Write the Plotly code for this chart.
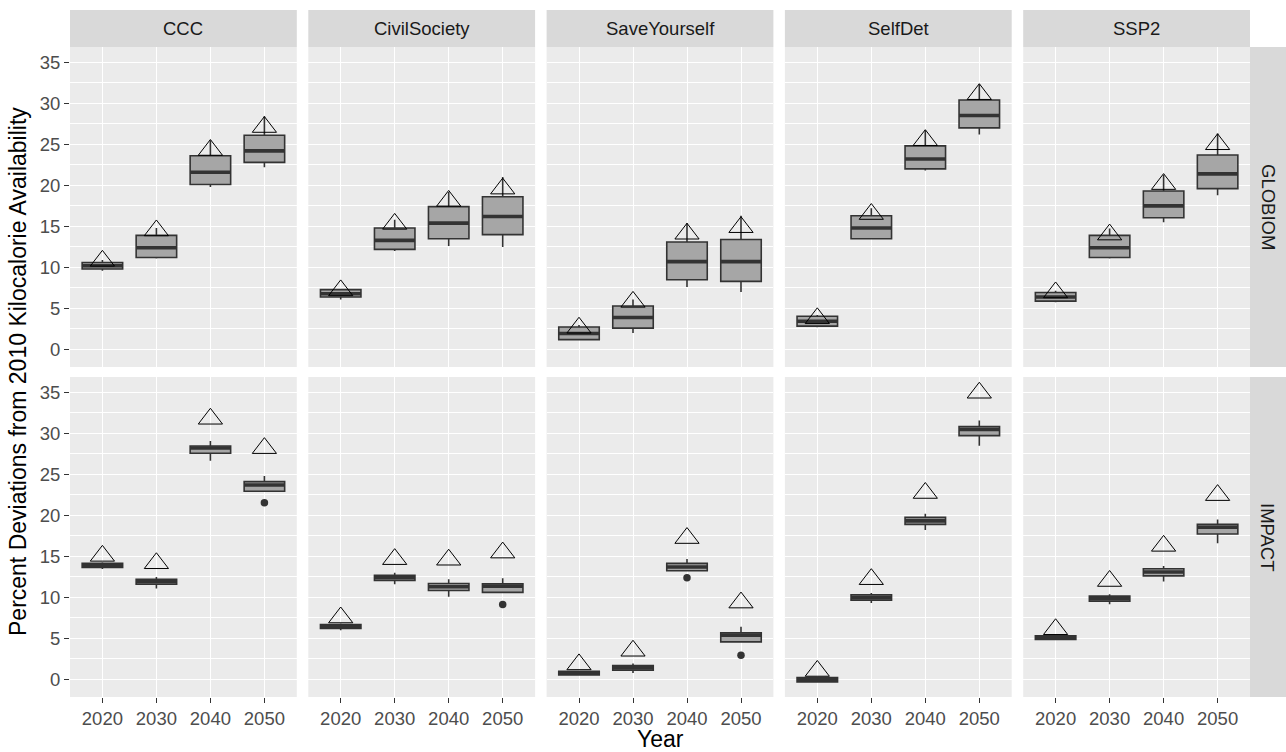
import plotly.graph_objects as go

# ---------------- data ----------------
years = ["2020", "2030", "2040", "2050"]
scenarios = ["CCC", "CivilSociety", "SaveYourself", "SelfDet", "SSP2"]
models = ["GLOBIOM", "IMPACT"]

# GLOBIOM (rows = scenarios, cols = years)
globiom_q1 = [[9.8, 11.2, 20.1, 22.8], [6.4, 12.2, 13.5, 14.0], [1.2, 2.6, 8.5, 8.3],
              [2.85, 13.5, 22.0, 27.0], [5.9, 11.2, 16.05, 19.6]]
globiom_median = [[10.2, 12.4, 21.6, 24.2], [6.8, 13.3, 15.4, 16.2], [1.95, 3.9, 10.7, 10.7],
                  [3.45, 14.8, 23.2, 28.5], [6.4, 12.4, 17.5, 21.4]]
globiom_q3 = [[10.6, 13.9, 23.6, 26.1], [7.3, 14.8, 17.4, 18.6], [2.75, 5.3, 13.1, 13.4],
              [4.05, 16.3, 24.8, 30.4], [6.95, 13.9, 19.3, 23.7]]
globiom_low = [[9.6, 11.1, 19.8, 22.2], [6.1, 12.0, 12.6, 12.5], [1.1, 2.0, 7.6, 7.0],
               [2.7, 13.4, 21.8, 26.2], [5.75, 11.1, 15.5, 18.8]]
globiom_high = [[10.9, 14.8, 25.5, 28.4], [7.4, 15.8, 19.2, 21.0], [3.0, 6.1, 15.4, 16.3],
                [4.2, 17.2, 26.7, 32.3], [7.15, 14.75, 21.3, 26.3]]
globiom_reference = [[10.8, 14.5, 24.3, 27.1], [7.2, 15.3, 18.1, 19.6], [2.65, 5.8, 14.1, 14.9],
                     [3.8, 16.5, 25.5, 31.1], [6.95, 14.0, 20.15, 25.0]]

# IMPACT
impact_q1 = [[13.66, 11.6, 27.56, 22.93], [6.22, 12.07, 10.85, 10.61], [0.56, 1.13, 13.24, 4.59],
             [-0.29, 9.67, 18.9, 29.71], [4.88, 9.55, 12.63, 17.72]]
impact_median = [[13.9, 11.9, 28.2, 23.7], [6.46, 12.4, 11.3, 11.38], [0.78, 1.42, 13.7, 5.4],
                 [0.0, 10.0, 19.33, 30.45], [5.1, 9.87, 13.1, 18.54]]
impact_q3 = [[14.15, 12.2, 28.45, 24.1], [6.7, 12.68, 11.7, 11.66], [1.01, 1.7, 14.15, 5.68],
             [0.24, 10.32, 19.75, 30.8], [5.32, 10.16, 13.49, 18.9]]
impact_low = [[13.45, 11.1, 26.66, 22.93], [6.0, 11.6, 10.07, 10.61], [0.5, 0.78, 13.24, 4.59],
              [-0.35, 9.33, 18.21, 28.49], [4.8, 9.17, 11.93, 16.59]]
impact_high = [[14.27, 12.5, 29.06, 24.79], [6.82, 13.0, 12.2, 12.34], [1.1, 1.95, 14.67, 6.42],
               [0.3, 10.55, 20.2, 31.54], [5.4, 10.4, 13.83, 19.5]]
impact_reference = [[15.06, 14.16, 31.76, 28.18], [7.55, 14.66, 14.59, 15.46], [1.84, 3.5, 17.23, 9.37],
                    [1.04, 12.22, 22.72, 34.93], [6.12, 12.0, 16.28, 22.46]]

# outliers: (model, scenario, year, value)
outlier_model = ["IMPACT", "IMPACT", "IMPACT", "IMPACT"]
outlier_scenario = ["CCC", "CivilSociety", "SaveYourself", "SaveYourself"]
outlier_year = ["2050", "2050", "2040", "2050"]
outlier_value = [21.54, 9.15, 12.39, 2.96]

y_ticks = [0, 5, 10, 15, 20, 25, 30, 35]
y_minor = [2.5, 7.5, 12.5, 17.5, 22.5, 27.5, 32.5]

stats = {
    "GLOBIOM": (globiom_q1, globiom_median, globiom_q3, globiom_low, globiom_high, globiom_reference),
    "IMPACT": (impact_q1, impact_median, impact_q3, impact_low, impact_high, impact_reference),
}

# ---------------- layout geometry (pixels) ----------------
W, H = 1286, 752
FONT = "Liberation Sans, Arial, sans-serif"
TICK_SIZE = 18.5
TITLE_SIZE = 23
col_left = [70, 308.3, 546.6, 784.9, 1023.2]
panel_w = 226.8
row_top = [47, 377]
panel_h = 320
strip_top = 10
strip_right = (1250, 1286)

def px(x):
    return x / W

def py(y):
    return 1 - y / H

fig = go.Figure()
layout = {}
shapes = []
annotations = []

for r, model in enumerate(models):
    q1s, meds, q3s, lows, highs, refs = stats[model]
    for c, sc in enumerate(scenarios):
        idx = r * 5 + c + 1
        xa = "x" if idx == 1 else f"x{idx}"
        ya = "y" if idx == 1 else f"y{idx}"
        xkey = "xaxis" if idx == 1 else f"xaxis{idx}"
        ykey = "yaxis" if idx == 1 else f"yaxis{idx}"

        fig.add_trace(go.Box(
            x=years, q1=q1s[c], median=meds[c], q3=q3s[c],
            lowerfence=lows[c], upperfence=highs[c],
            width=0.75, whiskerwidth=0, fillcolor="#A6A6A6",
            line=dict(color="#333333", width=1.6),
            xaxis=xa, yaxis=ya, hoverinfo="skip", showlegend=False,
        ))
        # thick median bar (ggplot fatten)
        fig.add_trace(go.Scatter(
            x=years, y=meds[c], mode="markers",
            marker=dict(symbol="line-ew", size=29, line=dict(width=3.6, color="#333333")),
            xaxis=xa, yaxis=ya, hoverinfo="skip", showlegend=False,
        ))
        # outliers
        ox = [outlier_year[i] for i in range(len(outlier_value))
              if outlier_model[i] == model and outlier_scenario[i] == sc]
        oy = [outlier_value[i] for i in range(len(outlier_value))
              if outlier_model[i] == model and outlier_scenario[i] == sc]
        if ox:
            fig.add_trace(go.Scatter(
                x=ox, y=oy, mode="markers",
                marker=dict(symbol="circle", size=7.5, color="#333333"),
                xaxis=xa, yaxis=ya, hoverinfo="skip", showlegend=False,
            ))
        # reference triangles
        fig.add_trace(go.Scatter(
            x=years, y=refs[c], mode="markers",
            marker=dict(symbol="triangle-up-open", size=21, color="black",
                        line=dict(width=1, color="black")),
            xaxis=xa, yaxis=ya, hoverinfo="skip", showlegend=False,
        ))

        x0 = col_left[c]
        y0 = row_top[r]
        layout[xkey] = dict(
            domain=[px(x0), px(x0 + panel_w)], anchor=ya,
            type="category", categoryorder="array", categoryarray=years,
            range=[-0.6, 3.6], showgrid=True, gridcolor="white", gridwidth=1.1,
            zeroline=False, showline=False,
            ticks="outside" if r == 1 else "", ticklen=5, tickcolor="#333333", tickwidth=1,
            showticklabels=(r == 1),
            tickfont=dict(family=FONT, size=TICK_SIZE, color="#4D4D4D"),
            fixedrange=True,
        )
        layout[ykey] = dict(
            domain=[py(y0 + panel_h), py(y0)], anchor=xa,
            range=[-2.13, 36.85], tickvals=y_ticks, ticktext=[str(v) for v in y_ticks],
            showgrid=True, gridcolor="white", gridwidth=1.1, zeroline=False, showline=False,
            minor=dict(tickvals=y_minor, showgrid=True, gridcolor="white", gridwidth=0.55, ticks=""),
            ticks="outside" if c == 0 else "", ticklen=5, tickcolor="#333333", tickwidth=1,
            showticklabels=(c == 0),
            tickfont=dict(family=FONT, size=TICK_SIZE, color="#4D4D4D"),
            fixedrange=True,
        )

# top strips
for c, sc in enumerate(scenarios):
    x0 = col_left[c]
    shapes.append(dict(type="rect", xref="paper", yref="paper",
                       x0=px(x0), x1=px(x0 + panel_w), y0=py(row_top[0]), y1=py(strip_top),
                       fillcolor="#D9D9D9", line=dict(width=0), layer="below"))
    annotations.append(dict(text=sc, xref="paper", yref="paper",
                            x=px(x0 + panel_w / 2), y=py((strip_top + row_top[0]) / 2),
                            showarrow=False, xanchor="center", yanchor="middle",
                            font=dict(family=FONT, size=TICK_SIZE, color="#1A1A1A")))
# right strips
for r, model in enumerate(models):
    y0 = row_top[r]
    shapes.append(dict(type="rect", xref="paper", yref="paper",
                       x0=px(strip_right[0]), x1=px(strip_right[1]),
                       y0=py(y0 + panel_h), y1=py(y0),
                       fillcolor="#D9D9D9", line=dict(width=0), layer="below"))
    annotations.append(dict(text=model, xref="paper", yref="paper",
                            x=px((strip_right[0] + strip_right[1]) / 2), y=py(y0 + panel_h / 2),
                            showarrow=False, xanchor="center", yanchor="middle", textangle=90,
                            font=dict(family=FONT, size=TICK_SIZE, color="#1A1A1A")))

# axis titles
annotations.append(dict(text="Year", xref="paper", yref="paper",
                        x=px((col_left[0] + col_left[-1] + panel_w) / 2), y=py(739),
                        showarrow=False, xanchor="center", yanchor="middle",
                        font=dict(family=FONT, size=TITLE_SIZE, color="black")))
annotations.append(dict(text="Percent Deviations from 2010 Kilocalorie Availability",
                        xref="paper", yref="paper",
                        x=px(18), y=py((row_top[0] + row_top[1] + panel_h) / 2),
                        showarrow=False, xanchor="center", yanchor="middle", textangle=-90,
                        font=dict(family=FONT, size=TITLE_SIZE, color="black")))

fig.update_layout(
    width=W, height=H, margin=dict(l=0, r=0, t=0, b=0),
    paper_bgcolor="white", plot_bgcolor="#EBEBEB",
    showlegend=False, shapes=shapes, annotations=annotations,
    font=dict(family=FONT), boxmode="overlay",
    **layout,
)

fig.write_html("out.html", config={"displayModeBar": False},
               post_script="document.body.style.margin='0';document.body.style.overflow='hidden';")
